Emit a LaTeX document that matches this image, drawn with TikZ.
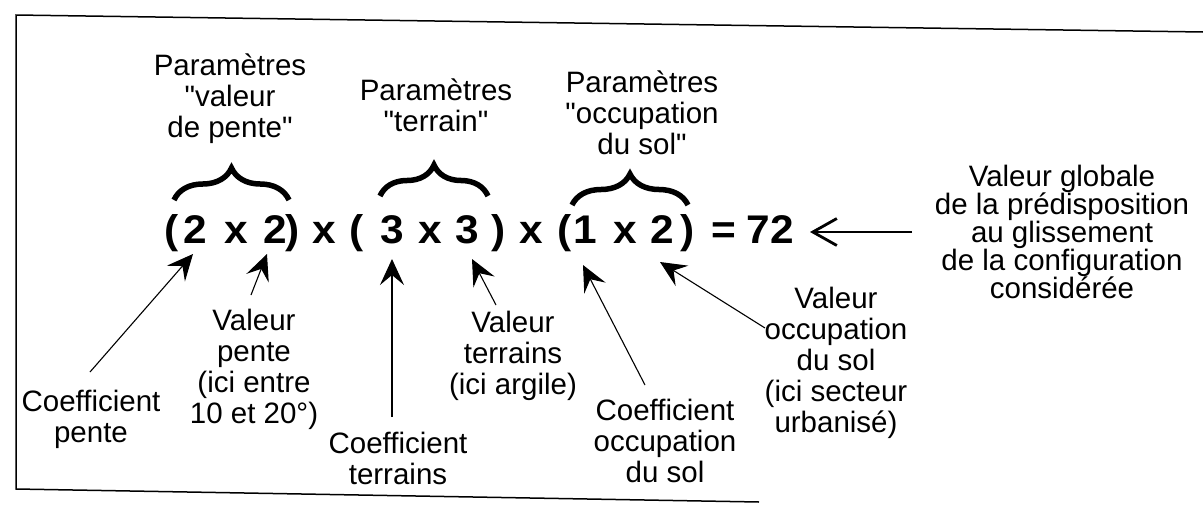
\documentclass[tikz,border=0pt]{standalone}
\usepackage{fontspec}
\newfontfamily\lblfamily{Liberation Sans}
\newfontfamily\eqfamily{Liberation Sans}[FakeStretch=1.06]
\usetikzlibrary{arrows.meta,decorations.pathreplacing}
\begin{document}
\begin{tikzpicture}[x=1pt,y=-1pt,
  lbl/.style={font=\lblfamily\fontsize{29.5}{31}\selectfont, align=center, inner sep=0pt},
  lblr/.style={font=\lblfamily\fontsize{29.5}{28}\selectfont, align=center, inner sep=0pt},
  tok/.style={font=\eqfamily\bfseries\fontsize{40}{40}\selectfont, anchor=base, inner sep=0pt},
  arr/.style={line width=1.1pt, -{Stealth[length=26pt,width=24pt,inset=10pt]}},
  bigarr/.style={line width=1.1pt, -{Straight Barb[length=24pt,width=27pt,line width=2.8pt]}},
  brc/.style={decorate, decoration={brace, amplitude=#1}, line width=5.5pt},
  framel/.style={line width=1.5pt}]
\useasboundingbox (0,0) rectangle (1203,504);
% frame
\draw[framel] (1203,32) -- (16,15) -- (16,489) -- (759,502);
% labels above
\node[lbl] (p1) at (230,99) {Paramètres\\"valeur\\de pente"};
\node[lbl] (p2) at (436,105) {Paramètres\\"terrain"};
\node[lbl] (p3) at (642,113) {Paramètres\\"occupation\\du sol"};
% equation tokens
\node[tok] (e1) at (172,243) {(};
\node[tok] (e2) at (195,243) {2};
\node[tok] (e3) at (236,243) {x};
\node[tok] (e4) at (275,243) {2};
\node[tok] (e5) at (293,243) {)};
\node[tok] (e6) at (324,243) {x};
\node[tok] (e7) at (357,243) {(};
\node[tok] (e8) at (392,243) {3};
\node[tok] (e9) at (430,243) {x};
\node[tok] (e10) at (467,243) {3};
\node[tok] (e11) at (499,243) {)};
\node[tok] (e12) at (531,243) {x};
\node[tok] (e13) at (565,243) {(};
\node[tok] (e14) at (585,243) {1};
\node[tok] (e15) at (625,243) {x};
\node[tok] (e16) at (662,243) {2};
\node[tok] (e17) at (688,243) {)};
\node[tok] (e18) at (724,243) {=};
\node[tok] (e19) at (770,243) {72};
% braces
\draw[brc=32pt] (174,200) -- (289,200);
\draw[brc=31pt] (380,196) -- (488,196);
\draw[brc=31pt] (572,205) -- (688,205);
% labels below
\node[lbl] (cp) at (91,419) {Coefficient\\pente};
\node[lbl] (vp) at (254,369) {Valeur\\pente\\(ici entre\\10 et 20°)};
\node[lbl] (ct) at (398,458) {Coefficient\\terrains};
\node[lbl] (vt) at (513,356) {Valeur\\terrains\\(ici argile)};
\node[lbl] (co) at (665,441) {Coefficient\\occupation\\du sol};
\node[lbl] (vo) at (836,363) {Valeur\\occupation\\du sol\\(ici secteur\\urbanisé)};
\node[lblr] (gl) at (1062,232) {Valeur globale\\de la prédisposition\\au glissement\\de la configuration\\considérée};
% arrow ends
\coordinate (s1) at (90,372);  \coordinate (t1) at (193,254);
\coordinate (s2) at (251,295); \coordinate (t2) at (267,254);
\coordinate (s3) at (392,417); \coordinate (t3) at (392,259);
\coordinate (s4) at (496,305); \coordinate (t4) at (472,259);
\coordinate (s5) at (645,385); \coordinate (t5) at (583,265);
\coordinate (s6) at (765,328); \coordinate (t6) at (660,262);
\coordinate (s7) at (912,232); \coordinate (t7) at (810,232);
\draw[arr] (s1) -- (t1);
\draw[arr] (s2) -- (t2);
\draw[arr] (s3) -- (t3);
\draw[arr] (s4) -- (t4);
\draw[arr] (s5) -- (t5);
\draw[arr] (s6) -- (t6);
\draw[bigarr] (s7) -- (t7);
\end{tikzpicture}
\end{document}
